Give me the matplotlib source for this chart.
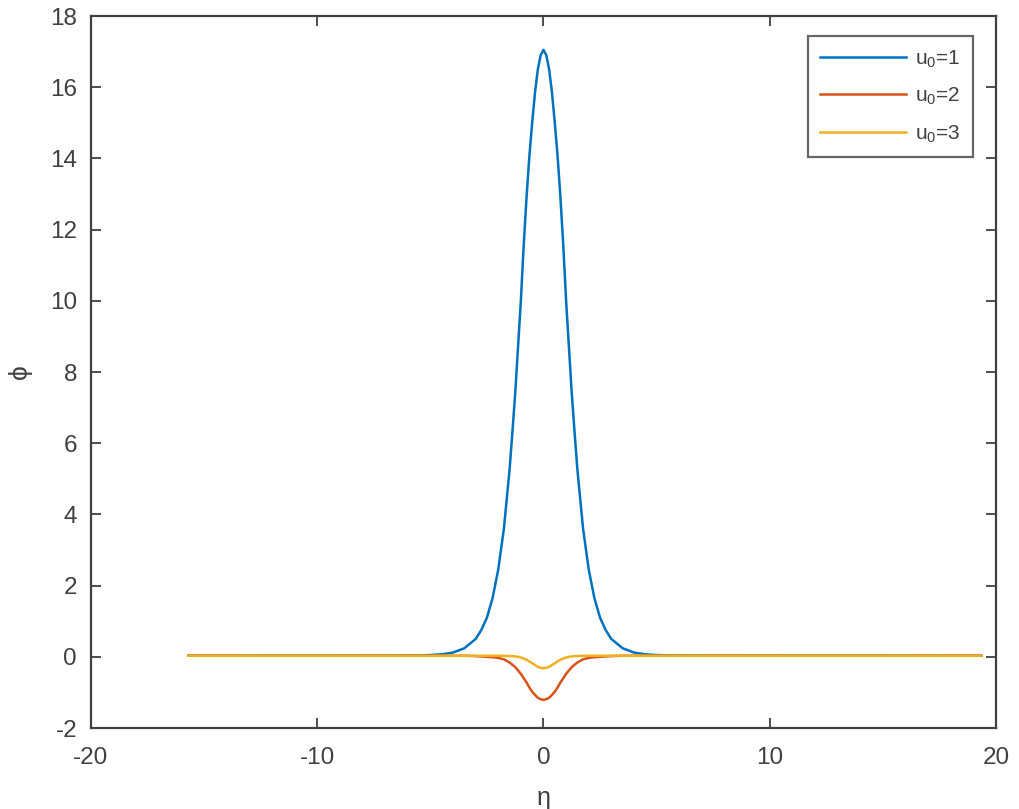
import numpy as np
import matplotlib
matplotlib.use("Agg")
import matplotlib.pyplot as plt

# values (positive half, curves are symmetric about eta=0)
eta_half = [0, 0.125, 0.25, 0.375, 0.5, 0.625, 0.75, 0.875, 1.0, 1.125, 1.25,
            1.375, 1.5, 1.75, 2.0, 2.25, 2.5, 2.75, 3.0, 3.5, 4.0, 4.5, 5.0, 6.0]
phi_u1 = [17.05, 16.9, 16.5, 15.85, 15.0, 14.05, 12.9, 11.55, 10.0, 8.7, 7.4,
          6.3, 5.25, 3.6, 2.45, 1.65, 1.1, 0.75, 0.5, 0.24, 0.12, 0.07, 0.05, 0.035]
phi_u2 = [-1.21, -1.19, -1.15, -1.07, -0.98, -0.86, -0.72, -0.6, -0.48, -0.38, -0.29,
          -0.22, -0.16, -0.07, -0.03, -0.01, 0.0, 0.01, 0.02, 0.03, 0.03, 0.03, 0.03, 0.03]
phi_u3 = [-0.32, -0.31, -0.28, -0.23, -0.18, -0.13, -0.08, -0.05, -0.02, 0.0, 0.01,
          0.02, 0.02, 0.03, 0.03, 0.03, 0.03, 0.03, 0.03, 0.03, 0.03, 0.03, 0.03, 0.03]
eta_left, eta_right = -15.7, 19.35
edge_phi = 0.03

labels = ["u$_0$=1", "u$_0$=2", "u$_0$=3"]
colors = ["#0072BD", "#D95319", "#EDB120"]


def full_curve(half):
    # mirror the half curve and add the flat ends
    x = [eta_left] + [-e for e in eta_half[:0:-1]] + eta_half + [eta_right]
    y = [edge_phi] + half[:0:-1] + half + [edge_phi]
    return np.array(x), np.array(y)


plt.rcParams["font.family"] = ["Liberation Sans", "DejaVu Sans"]
plt.rcParams["axes.unicode_minus"] = False
plt.rcParams["mathtext.fontset"] = "custom"
plt.rcParams["mathtext.rm"] = "Liberation Sans"
ink = "#404040"

fig = plt.figure(figsize=(10.19, 8.09), dpi=100)
ax = fig.add_axes([0.0893, 0.1001, 0.8881, 0.8801])

for half, lab, c in zip([phi_u1, phi_u2, phi_u3], labels, colors):
    x, y = full_curve(half)
    ax.plot(x, y, color=c, lw=1.8, label=lab)

ax.set_xlim(-20, 20)
ax.set_ylim(-2, 18)
ax.set_xticks([-20, -10, 0, 10, 20])
ax.set_yticks(np.arange(-2, 19, 2))
ax.tick_params(direction="in", length=7, width=1.3, top=True, right=True,
               labelsize=17.5, colors=ink)
ax.tick_params(axis="x", pad=14)
ax.tick_params(axis="y", pad=10)
for s in ax.spines.values():
    s.set_color(ink)
    s.set_linewidth(1.6)

ax.set_xlabel("η", fontsize=18, color=ink, labelpad=12)
ax.set_ylabel("ϕ", fontsize=19, color=ink, labelpad=13)

leg = ax.legend(loc="upper right", bbox_to_anchor=(0.9746, 0.972), fontsize=15,
                frameon=True, fancybox=False, edgecolor=ink, handlelength=4.1,
                borderaxespad=0, borderpad=0.6, labelspacing=0.75, handletextpad=0.45)
leg.get_frame().set_linewidth(1.6)
for t in leg.get_texts():
    t.set_color(ink)

fig.savefig("out.png", dpi=100)
